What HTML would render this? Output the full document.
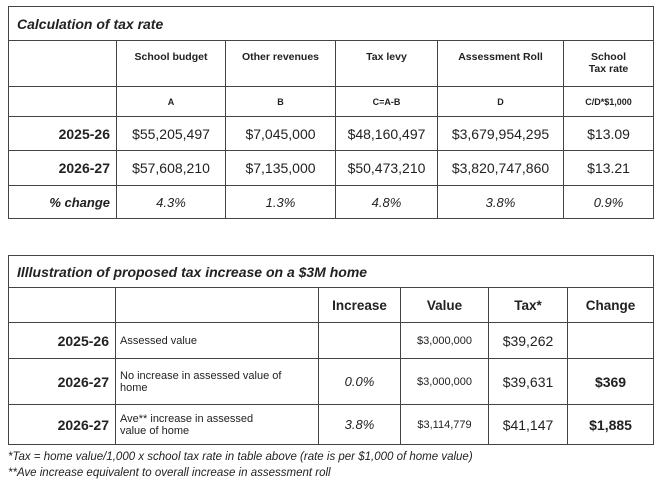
<!DOCTYPE html>
<html><head><meta charset="utf-8"><style>
body{margin:0;background:#fff;font-family:"Liberation Sans",Arial,sans-serif;color:#222;width:660px;height:484px;position:relative;overflow:hidden}
table{position:absolute;left:8px;border-collapse:collapse;table-layout:fixed}
td{border:1px solid #444;padding:0 4px;text-align:center;vertical-align:middle}
.t{text-align:left;font-weight:bold;font-style:italic;font-size:14px;padding-left:8px}
.h{font-weight:bold;font-size:10.5px}
.n{font-size:14px}
.y{font-weight:bold;font-size:14px;text-align:right;padding-right:6px}
.i{font-style:italic;font-size:13px}
.s{font-size:11px;text-align:left}
.v{font-size:11px}
.foot{position:absolute;left:8px;font-style:italic;font-size:11.5px;color:#222}
</style></head><body>
<table style="top:6px;width:645px">
<colgroup><col style="width:108px"><col style="width:109px"><col style="width:110px"><col style="width:102px"><col style="width:126px"><col style="width:90px"></colgroup>
<tr style="height:34px"><td colspan="6" class="t">Calculation of tax rate</td></tr>
<tr style="height:46px"><td></td><td class="h" style="vertical-align:top;padding-top:10px">School budget</td><td class="h" style="vertical-align:top;padding-top:10px">Other revenues</td><td class="h" style="vertical-align:top;padding-top:10px">Tax levy</td><td class="h" style="vertical-align:top;padding-top:10px">Assessment Roll</td><td class="h" style="vertical-align:top;padding-top:10px">School<br>Tax rate</td></tr>
<tr style="height:30px"><td></td><td class="h" style="font-size:9px">A</td><td class="h" style="font-size:9px">B</td><td class="h" style="font-size:9px">C=A-B</td><td class="h" style="font-size:9px">D</td><td class="h" style="font-size:9px">C/D*$1,000</td></tr>
<tr style="height:34px"><td class="y">2025-26</td><td class="n">$55,205,497</td><td class="n">$7,045,000</td><td class="n">$48,160,497</td><td class="n">$3,679,954,295</td><td class="n">$13.09</td></tr>
<tr style="height:35px"><td class="y">2026-27</td><td class="n">$57,608,210</td><td class="n">$7,135,000</td><td class="n">$50,473,210</td><td class="n">$3,820,747,860</td><td class="n">$13.21</td></tr>
<tr style="height:33px"><td class="y" style="font-style:italic;font-size:13px">% change</td><td class="i">4.3%</td><td class="i">1.3%</td><td class="i">4.8%</td><td class="i">3.8%</td><td class="i">0.9%</td></tr>
</table>
<table style="top:255px;width:645px">
<colgroup><col style="width:107px"><col style="width:203px"><col style="width:82px"><col style="width:88px"><col style="width:79px"><col style="width:86px"></colgroup>
<tr style="height:32px"><td colspan="6" class="t">Illlustration of proposed tax increase on a $3M home</td></tr>
<tr style="height:35px"><td></td><td></td><td class="h" style="font-size:13.5px">Increase</td><td class="h" style="font-size:13.5px">Value</td><td class="h" style="font-size:13.5px">Tax*</td><td class="h" style="font-size:13.5px">Change</td></tr>
<tr style="height:36px"><td class="y">2025-26</td><td class="s">Assessed value</td><td></td><td class="v">$3,000,000</td><td class="n">$39,262</td><td></td></tr>
<tr style="height:46px"><td class="y">2026-27</td><td class="s">No increase in assessed value of<br>home</td><td class="i">0.0%</td><td class="v">$3,000,000</td><td class="n">$39,631</td><td class="n" style="font-weight:bold">$369</td></tr>
<tr style="height:40px"><td class="y">2026-27</td><td class="s">Ave** increase in assessed<br>value of home</td><td class="i">3.8%</td><td class="v">$3,114,779</td><td class="n">$41,147</td><td class="n" style="font-weight:bold">$1,885</td></tr>
</table>
<div class="foot" style="top:451px">*Tax = home value/1,000 x school tax rate in table above (rate is per $1,000 of home value)</div>
<div class="foot" style="top:467px">**Ave increase equivalent to overall increase in assessment roll</div>
</body></html>
